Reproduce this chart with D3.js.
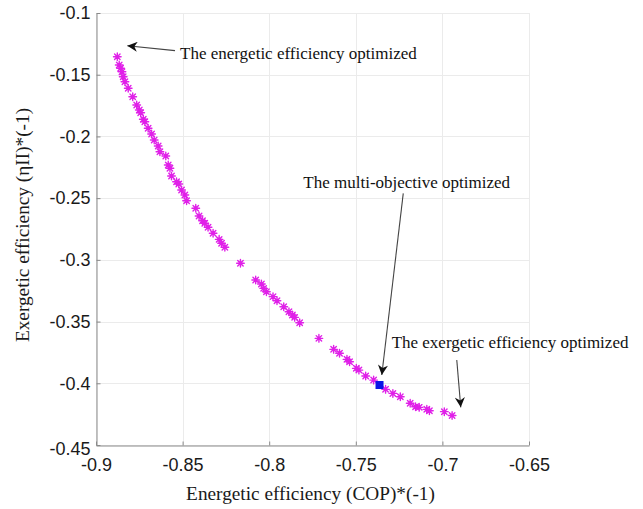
<!DOCTYPE html>
<html>
<head>
<meta charset="utf-8">
<script src="https://cdn.jsdelivr.net/npm/d3@7"></script>
<style>
  html, body { margin: 0; padding: 0; background: #fff; }
  svg { display: block; }
</style>
</head>
<body>
<svg id="chart" width="643" height="509"></svg>
<script>
// ---- data ----
const copValues = [
  -0.8877, -0.8866, -0.8858, -0.8850, -0.8843, -0.8833, -0.8814, -0.8788, -0.8765, -0.8750,
  -0.8742, -0.8727, -0.8718, -0.8699, -0.8679, -0.8664, -0.8641, -0.8631, -0.8597, -0.8583,
  -0.8573, -0.8564, -0.8535, -0.8522, -0.8506, -0.8487, -0.8477, -0.8424, -0.8405, -0.8385,
  -0.8372, -0.8353, -0.8324, -0.8289, -0.8275, -0.8256, -0.8166, -0.8078, -0.8045, -0.8032,
  -0.8016, -0.7978, -0.7955, -0.7916, -0.7886, -0.7866, -0.7853, -0.7824, -0.7713, -0.7628,
  -0.7594, -0.7551, -0.7536, -0.7497, -0.7482, -0.7443, -0.7397, -0.7328, -0.7286, -0.7243,
  -0.7186, -0.7155, -0.7134, -0.7090, -0.7075, -0.6989, -0.6944
];
const exValues = [
  -0.1354, -0.1421, -0.1448, -0.1476, -0.1516, -0.1557, -0.1610, -0.1678, -0.1745, -0.1786,
  -0.1808, -0.1861, -0.1881, -0.1934, -0.1980, -0.2029, -0.2078, -0.2124, -0.2159, -0.2231,
  -0.2258, -0.2321, -0.2367, -0.2385, -0.2434, -0.2475, -0.2521, -0.2582, -0.2645, -0.2683,
  -0.2704, -0.2736, -0.2785, -0.2834, -0.2866, -0.2898, -0.3028, -0.3163, -0.3196, -0.3231,
  -0.3258, -0.3298, -0.3331, -0.3380, -0.3420, -0.3447, -0.3466, -0.3509, -0.3636, -0.3725,
  -0.3757, -0.3806, -0.3825, -0.3879, -0.3893, -0.3941, -0.3974, -0.4049, -0.4082, -0.4109,
  -0.4162, -0.4190, -0.4195, -0.4211, -0.4222, -0.4230, -0.4261
];
const optimumPoint = [-0.7363, -0.4014];
const xTicks = [-0.9, -0.85, -0.8, -0.75, -0.7, -0.65];
const xTickLabels = ["-0.9", "-0.85", "-0.8", "-0.75", "-0.7", "-0.65"];
const yTicks = [-0.1, -0.15, -0.2, -0.25, -0.3, -0.35, -0.4, -0.45];
const yTickLabels = ["-0.1", "-0.15", "-0.2", "-0.25", "-0.3", "-0.35", "-0.4", "-0.45"];
const xTitle = "Energetic efficiency (COP)*(-1)";
const yTitle = "Exergetic efficiency (ηII)*(-1)";
// annotations: text, text anchor point (data), arrow start (data), arrow tip (data)
const annotationTexts = ["The energetic efficiency optimized", "The multi-objective optimized", "The exergetic efficiency optimized"];
const annotationTextPos = [[-0.8515, -0.1327], [-0.7803, -0.2367], [-0.7293, -0.3663]];
const annotationFrom = [[-0.8544, -0.1305], [-0.7226, -0.2461], [-0.6917, -0.3811]];
const annotationTo = [[-0.8819, -0.1265], [-0.7350, -0.3933], [-0.6894, -0.4195]];

// ---- layout ----
const margin = { left: 96, top: 13, right: 114, bottom: 64 };
const W = 643, H = 509;
const svg = d3.select("#chart");
const x = d3.scaleLinear().domain([-0.9, -0.65]).range([margin.left, W - margin.right]);
const y = d3.scaleLinear().domain([-0.45, -0.1]).range([H - margin.bottom, margin.top]);

// grid
const grid = svg.append("g").attr("stroke", "#ebebeb").attr("stroke-width", 1);
grid.selectAll("line.gx").data(xTicks).join("line").attr("class", "gx")
  .attr("x1", d => Math.round(x(d)) + 0.5).attr("x2", d => Math.round(x(d)) + 0.5)
  .attr("y1", y(-0.45)).attr("y2", y(-0.1));
grid.selectAll("line.gy").data(yTicks).join("line").attr("class", "gy")
  .attr("y1", d => Math.round(y(d)) + 0.5).attr("y2", d => Math.round(y(d)) + 0.5)
  .attr("x1", x(-0.9)).attr("x2", x(-0.65));

// axes
const tickFont = "'Liberation Sans', Arial, sans-serif";
const xAxis = d3.axisBottom(x).tickValues(xTicks).tickSizeInner(-4).tickSizeOuter(0)
  .tickFormat((d, i) => xTickLabels[i]).tickPadding(13);
const gx = svg.append("g").attr("transform", `translate(0,${Math.round(y(-0.45)) + 0.5})`).call(xAxis);
const yAxis = d3.axisLeft(y).tickValues(yTicks).tickSizeInner(-4).tickSizeOuter(0)
  .tickFormat((d, i) => yTickLabels[i]).tickPadding(6);
const gy = svg.append("g").attr("transform", `translate(${Math.round(x(-0.9)) + 0.5},0)`).call(yAxis);
[gx, gy].forEach(g => {
  g.select(".domain").attr("stroke", "#8a8a8a");
  g.selectAll(".tick line").attr("stroke", "#8a8a8a");
  g.selectAll(".tick text").attr("fill", "#1a1a1a").style("font-family", tickFont).style("font-size", "18px");
});
gx.selectAll(".tick text").attr("dy", "0.71em");
gy.selectAll(".tick text").filter((d, i) => i === yTicks.length - 1).attr("dy", "0.55em");

// axis titles
const serif = "'Liberation Serif', 'Times New Roman', serif";
svg.append("text").attr("x", (x(-0.9) + x(-0.65)) / 2 - 2).attr("y", 500)
  .attr("text-anchor", "middle").style("font-family", serif).style("font-size", "19.3px").attr("fill", "#1a1a1a")
  .text(xTitle);
svg.append("text").attr("transform", `translate(29,${(y(-0.1) + y(-0.45)) / 2 - 4}) rotate(-90)`)
  .attr("text-anchor", "middle").style("font-family", serif).style("font-size", "19.3px").attr("fill", "#1a1a1a")
  .text(yTitle);

// points (asterisk markers)
const pts = copValues.map((c, i) => [c, exValues[i]]);
const r = 3.8;
const starPath = `M${-r},0L${r},0M0,${-r}L0,${r}M${-r*0.72},${-r*0.72}L${r*0.72},${r*0.72}M${-r*0.72},${r*0.72}L${r*0.72},${-r*0.72}`;
svg.append("g").selectAll("path").data(pts).join("path")
  .attr("transform", d => `translate(${x(d[0])},${y(d[1])})`)
  .attr("d", starPath).attr("stroke", "#e020e8").attr("stroke-width", 1.4).attr("fill", "none")
  .attr("stroke-linecap", "round");

// optimum point
svg.append("rect")
  .attr("x", x(optimumPoint[0]) - 4).attr("y", y(optimumPoint[1]) - 4)
  .attr("width", 8).attr("height", 8).attr("fill", "#0a14e6");

// annotations
svg.append("defs").append("marker").attr("id", "ah").attr("viewBox", "0 0 10 10")
  .attr("refX", 10).attr("refY", 5).attr("markerWidth", 12).attr("markerHeight", 10)
  .attr("markerUnits", "userSpaceOnUse").attr("orient", "auto")
  .append("path").attr("d", "M0,0L10,5L0,10L3,5Z").attr("fill", "#111");
annotationTexts.forEach((t, i) => {
  svg.append("line")
    .attr("x1", x(annotationFrom[i][0])).attr("y1", y(annotationFrom[i][1]))
    .attr("x2", x(annotationTo[i][0])).attr("y2", y(annotationTo[i][1]))
    .attr("stroke", "#444").attr("stroke-width", 1.1).attr("marker-end", "url(#ah)");
  svg.append("text").attr("x", x(annotationTextPos[i][0])).attr("y", y(annotationTextPos[i][1]))
    .attr("dy", "0.35em").style("font-family", serif).style("font-size", "17px").attr("fill", "#111")
    .text(t);
});
</script>
</body>
</html>
